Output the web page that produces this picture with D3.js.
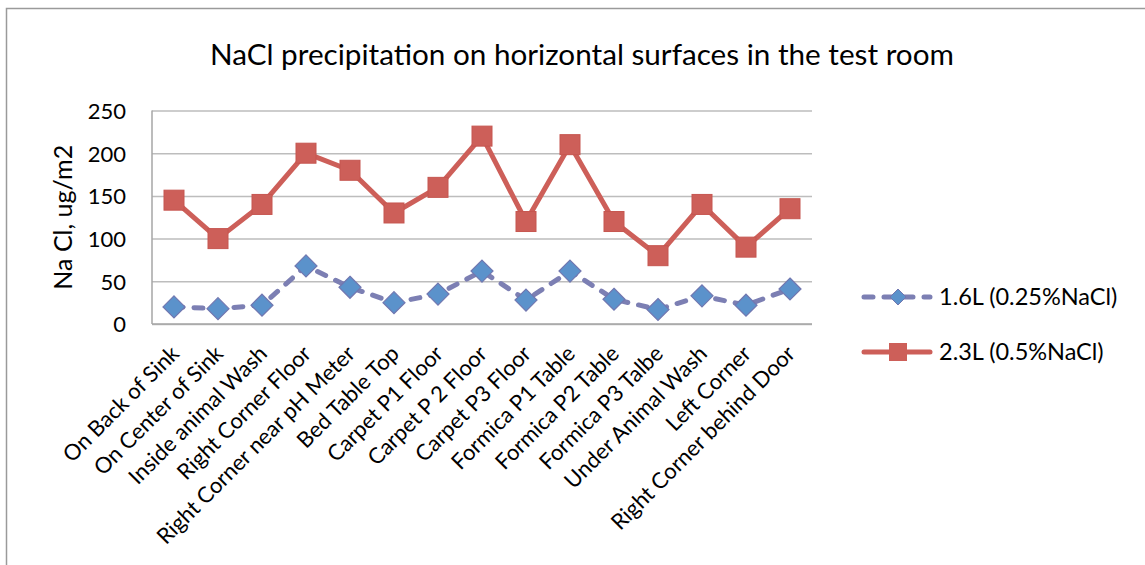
<!DOCTYPE html>
<html>
<head>
<meta charset="utf-8">
<script src="https://cdn.jsdelivr.net/npm/d3@7"></script>
<style>
  html, body { margin: 0; padding: 0; background: #fff; }
  svg { display: block; }
  text { font-family: Lato, "Open Sans", sans-serif; fill: #000; }
</style>
</head>
<body>
<svg id="chart" width="1145" height="565"></svg>
<script>
const categories = [
  "On Back of Sink", "On Center of Sink", "Inside animal Wash", "Right Corner Floor",
  "Right Corner near pH Meter", "Bed Table Top", "Carpet  P1 Floor", "Carpet P 2 Floor",
  "Carpet P3 Floor", "Formica P1 Table", "Formica P2 Table", "Formica P3 Talbe",
  "Under Animal Wash", "Left Corner", "Right Corner behind Door"
];
const series1Values = [20, 18, 22, 68, 43, 25, 35, 62, 28, 62, 29, 17, 33, 22, 41];
const series2Values = [145, 100, 140, 200, 180, 130, 160, 220, 120, 210, 120, 80, 140, 90, 135];
const seriesNames = ["1.6L (0.25%NaCl)", "2.3L (0.5%NaCl)"];
const yTicks = [0, 50, 100, 150, 200, 250];
const titleText = "NaCl precipitation on horizontal surfaces in the test room";
const yAxisTitle = "Na Cl, ug/m2";

const svg = d3.select("#chart");
const L = 152, R = 812, T = 110.5, B = 324;

// outer frame
svg.append("path").attr("d", "M6.5,570 V8.5 H1150")
  .attr("fill", "none").attr("stroke", "#9a9a9a").attr("stroke-width", 1.5);

const x = d3.scalePoint().domain(categories).range([L, R]).padding(0.5);
const y = d3.scaleLinear().domain([0, 250]).range([B, T]);

// title
const title = svg.append("text").attr("x", (210 + 954) / 2).attr("y", 65)
  .attr("text-anchor", "middle").style("font-size", "28px").text(titleText);
(function fit(){
  const w = title.node().getComputedTextLength();
  title.style("font-size", (28 * 744 / w) + "px");
})();

// y axis with gridlines
const yAxis = d3.axisLeft(y).tickValues(yTicks).tickSize(-(R - L)).tickPadding(26);
const gy = svg.append("g").attr("transform", `translate(${L},0)`).call(yAxis);
gy.select(".domain").remove();
gy.selectAll(".tick line").attr("stroke", "#bdbdbd").attr("stroke-width", 1.5);
gy.selectAll(".tick text").style("font-size", "22px").style("font-family", "Lato, 'Open Sans', sans-serif").attr("fill", "#000").attr("dy", "0.36em");

// plot left border
svg.append("line").attr("x1", L).attr("x2", L).attr("y1", T).attr("y2", B)
  .attr("stroke", "#a6a6a6").attr("stroke-width", 1.5);

// x axis
const xAxis = d3.axisBottom(x).tickSize(0).tickPadding(0);
const gx = svg.append("g").attr("transform", `translate(0,${B})`).call(xAxis);
gx.select(".domain").attr("stroke", "#a6a6a6").attr("stroke-width", 1.5)
  .attr("d", `M${L},0H${R}`);
gx.selectAll(".tick text")
  .style("font-size", "22px").style("font-family", "Lato, 'Open Sans', sans-serif")
  .attr("fill", "#000")
  .attr("text-anchor", "end")
  .attr("dy", 0).attr("y", 0)
  .attr("transform", "translate(6,31) rotate(-45)");

// y axis title
svg.append("text")
  .attr("transform", `translate(72,${(T + B) / 2}) rotate(-90)`)
  .attr("text-anchor", "middle").style("font-size", "25px").text(yAxisTitle);

// series 2 (red, solid, squares)
const line = d3.line().x((d, i) => x(categories[i])).y(d => y(d));
svg.append("path").datum(series2Values).attr("d", line)
  .attr("fill", "none").attr("stroke", "#cd5f59").attr("stroke-width", 5)
  .attr("stroke-linejoin", "round");
svg.selectAll(".sq").data(series2Values).enter().append("rect")
  .attr("x", (d, i) => x(categories[i]) - 10).attr("y", d => y(d) - 10)
  .attr("width", 20).attr("height", 20)
  .attr("fill", "#cd5f59").attr("stroke", "#c65650").attr("stroke-width", 1);

// series 1 (blue dashed, diamonds)
svg.append("path").datum(series1Values).attr("d", line)
  .attr("fill", "none").attr("stroke", "#7c7fb3").attr("stroke-width", 5)
  .attr("stroke-dasharray", "9,11").attr("stroke-linecap", "round");
svg.selectAll(".dm").data(series1Values).enter().append("path")
  .attr("d", "M0,-11L11,0L0,11L-11,0Z")
  .attr("transform", (d, i) => `translate(${x(categories[i])},${y(d)})`)
  .attr("fill", "#5b92cb").attr("stroke", "#7177b0").attr("stroke-width", 1.2);

// legend
const legend = svg.append("g");
const ly = [297, 352];
legend.append("line").attr("x1", 864).attr("x2", 930).attr("y1", ly[0]).attr("y2", ly[0])
  .attr("stroke", "#7c7fb3").attr("stroke-width", 5).attr("stroke-linecap", "round")
  .attr("stroke-dasharray", "9,11");
legend.append("path").attr("d", "M0,-8L8,0L0,8L-8,0Z")
  .attr("transform", `translate(898,${ly[0]})`)
  .attr("fill", "#5b92cb").attr("stroke", "#7177b0").attr("stroke-width", 1);
legend.append("line").attr("x1", 864).attr("x2", 930).attr("y1", ly[1]).attr("y2", ly[1])
  .attr("stroke", "#cd5f59").attr("stroke-width", 5).attr("stroke-linecap", "round");
legend.append("rect").attr("x", 889).attr("y", ly[1] - 9).attr("width", 18).attr("height", 18)
  .attr("fill", "#cd5f59");
legend.selectAll(".lt").data(seriesNames).enter().append("text")
  .attr("x", 939).attr("y", (d, i) => ly[i]).attr("dy", "0.36em")
  .style("font-size", "23.5px").text(d => d);
</script>
</body>
</html>
